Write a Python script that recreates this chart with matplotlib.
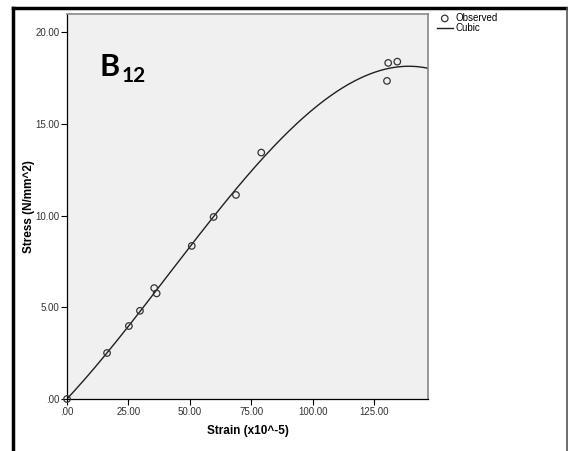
import numpy as np
import matplotlib.pyplot as plt
from matplotlib.lines import Line2D
from matplotlib.ticker import FuncFormatter

plt.rcParams['font.family'] = ['Liberation Sans', 'DejaVu Sans']

# Observed stress-strain readings
strain = [0.0, 16.3, 25.2, 29.7, 35.5, 36.5, 50.8, 59.7, 68.8, 79.1, 130.3, 130.8, 134.5]
stress = [0.0, 2.51, 3.98, 4.81, 6.05, 5.76, 8.35, 9.93, 11.13, 13.44, 17.35, 18.33, 18.40]

x_ticks = [0, 25, 50, 75, 100, 125]
y_ticks = [0, 5, 10, 15, 20]

# cubic regression through the observations
coef = np.polyfit(strain, stress, 3)
xs = np.linspace(0, 147, 300)
ys = np.polyval(coef, xs)

fig = plt.figure(figsize=(5.68, 4.51), dpi=100)
ax = fig.add_axes([0.118, 0.1153, 0.6355, 0.8537])
ax.set_facecolor('#f0f0f0')

ax.plot(xs, ys, color='#202020', lw=1.0, label='Cubic', zorder=2)
ax.scatter(strain, stress, s=22, facecolors='none', edgecolors='#333333',
           linewidths=0.9, label='Observed', zorder=3, clip_on=False)

ax.set_xlim(0, 147)
ax.set_ylim(0, 21)
ax.set_xticks(x_ticks)
ax.set_yticks(y_ticks)

def fmt(v, pos):
    s = f"{v:.2f}"
    return s[1:] if s.startswith('0') else s

ax.xaxis.set_major_formatter(FuncFormatter(fmt))
ax.yaxis.set_major_formatter(FuncFormatter(fmt))
ax.tick_params(direction='out', length=4, width=0.8, labelsize=7, colors='black',
               labelcolor='#333333', pad=1.5)

for side in ['left', 'bottom']:
    ax.spines[side].set_color('black')
    ax.spines[side].set_linewidth(0.9)
for side in ['top', 'right']:
    ax.spines[side].set_color('#888888')
    ax.spines[side].set_linewidth(1.2)

ax.set_xlabel('Strain (x10^-5)', fontsize=8.5, fontweight='bold', labelpad=6)
ax.set_ylabel('Stress (N/mm^2)', fontsize=8.5, fontweight='bold', labelpad=0)

# panel tag
ax.text(0.090, 0.839, 'B', transform=ax.transAxes, fontsize=22, fontweight='bold',
        family=['Lato', 'DejaVu Sans'], va='baseline')
ax.text(0.150, 0.823, '12', transform=ax.transAxes, fontsize=15, fontweight='bold',
        family=['Lato', 'DejaVu Sans'], va='baseline')

h, l = ax.get_legend_handles_labels()
fig.legend(h[::-1], l[::-1], loc='upper left', bbox_to_anchor=(437 / 568, 1 - 13 / 451),
           frameon=False, fontsize=7, handlelength=1.6, handletextpad=0.3,
           labelspacing=0.05, borderpad=0, borderaxespad=0)

# outer frame
W, H = 568, 451
fig.add_artist(Line2D([13 / W, 13 / W], [0, 1 - 8 / H], transform=fig.transFigure,
                      color='black', lw=2.5))
fig.add_artist(Line2D([13 / W, 567 / W], [1 - 8 / H, 1 - 8 / H], transform=fig.transFigure,
                      color='black', lw=2.5))
fig.add_artist(Line2D([566.5 / W, 566.5 / W], [0, 1 - 8 / H], transform=fig.transFigure,
                      color='#555555', lw=1.2))

fig.savefig('out.png', dpi=100)
